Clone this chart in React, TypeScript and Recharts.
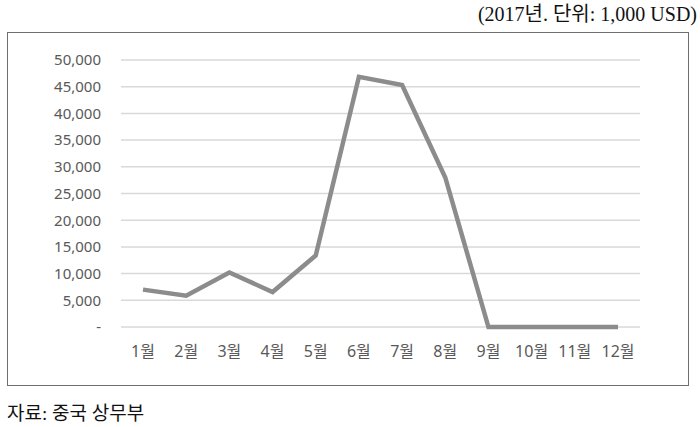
import React from 'react';
import { LineChart, Line, CartesianGrid, XAxis, YAxis } from 'recharts';

const months = ['1월', '2월', '3월', '4월', '5월', '6월', '7월', '8월', '9월', '10월', '11월', '12월'];
const exports2017 = [7000, 5850, 10200, 6550, 13400, 46850, 45300, 28000, 0, 0, 0, 0];
const yTicks = [0, 5000, 10000, 15000, 20000, 25000, 30000, 35000, 40000, 45000, 50000];

const data = months.map((m, i) => ({ month: m, value: exports2017[i] }));

const serif = "'Liberation Serif', 'DejaVu Serif', 'Noto Sans CJK KR', serif";
const sans = "'Noto Sans', 'Noto Sans CJK KR', sans-serif";
const yTickStyle = { fill: '#595959', fontSize: 15, fontFamily: sans };
const xTickStyle = { fill: '#595959', fontSize: 16, fontFamily: sans };

const fmt = (v: number) => (v === 0 ? '-' : v.toLocaleString('en-US'));

const App: React.FC = () => {
  return (
    <div style={{ position: 'absolute', left: 0, top: 0, width: 700, height: 427, background: '#fff' }}>
      <div
        style={{
          position: 'absolute',
          right: 3,
          top: -2,
          fontFamily: serif,
          fontSize: 20,
          color: '#111',
          whiteSpace: 'nowrap',
        }}
      >
        (2017년. 단위: 1,000 USD)
      </div>
      <div
        style={{
          position: 'absolute',
          left: 7,
          top: 32,
          width: 680,
          height: 352,
          border: '1.5px solid #6f6f6f',
        }}
      >
        <LineChart width={680} height={352} data={data} margin={{ top: 27, right: 48, bottom: 28, left: 0 }}>
          <CartesianGrid vertical={false} stroke="#d9d9d9" strokeWidth={1.5} />
          <XAxis
            dataKey="month"
            axisLine={false}
            tickLine={false}
            tickSize={0}
            tickMargin={19}
            height={30}
            interval={0}
            padding={{ left: 22, right: 22 }}
            tick={xTickStyle}
          />
          <YAxis
            domain={[0, 50000]}
            ticks={yTicks}
            tickFormatter={fmt}
            axisLine={false}
            tickLine={false}
            tickSize={0}
            tickMargin={20}
            width={113}
            tick={yTickStyle}
          />
          <Line
            type="linear"
            dataKey="value"
            stroke="#8c8c8c"
            strokeWidth={4.5}
            dot={false}
            isAnimationActive={false}
          />
        </LineChart>
      </div>
      <div
        style={{
          position: 'absolute',
          left: 7,
          top: 398,
          fontFamily: serif,
          fontSize: 19,
          color: '#111',
          whiteSpace: 'nowrap',
        }}
      >
        자료: 중국 상무부
      </div>
    </div>
  );
};

export default App;
